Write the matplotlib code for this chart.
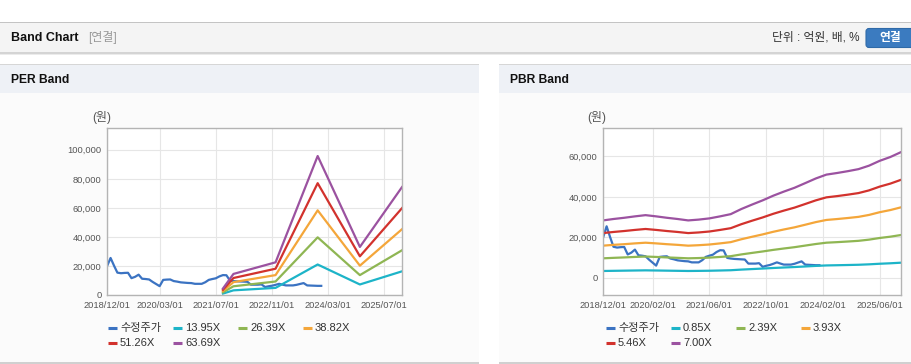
import matplotlib
matplotlib.use("Agg")
import matplotlib.pyplot as plt
import matplotlib.dates as mdates
from matplotlib.patches import Rectangle, FancyBboxPatch
import pandas as pd

plt.rcParams['font.family'] = ['Liberation Sans', 'Noto Sans CJK KR']

# ---- data ----
price_dates = pd.date_range('2018-12-01', '2024-01-01', freq='MS')
price = [19800,
         25500, 20000, 15400, 15000, 15200, 15300, 11600, 12500, 14000, 11200, 11000, 10700,
         9000, 7500, 6100, 10400, 10600, 10700, 9600, 9200, 8700, 8500, 8300, 8200,
         7700, 7700, 7700, 8800, 10400, 11000, 11500, 12800, 13700, 13600, 9900, 9600,
         9400, 9300, 9200, 9100, 7100, 7100, 7100, 7300, 5500, 6000, 6400, 7000,
         7700, 7100, 6600, 6600, 6600, 7000, 7600, 8200, 6600, 6500, 6400, 6300,
         6300]

per_dates = pd.to_datetime(['2021-09-01', '2021-12-01', '2022-12-01',
                            '2023-12-01', '2024-12-01', '2025-12-01'])
per_labels = ['13.95X', '26.39X', '38.82X', '51.26X', '63.69X']
per_1395 = [980, 3200, 4900, 21000, 7250, 16300]
per_2639 = [1850, 6000, 9300, 39700, 13700, 30800]
per_3882 = [2720, 8850, 13700, 58300, 20200, 45300]
per_5126 = [3590, 11700, 18100, 77000, 26650, 59800]
per_6369 = [4460, 14500, 22500, 95700, 33100, 74300]

pbr_dates = pd.date_range('2018-12-01', '2025-12-01', freq='3MS')
pbr_labels = ['0.85X', '2.39X', '3.93X', '5.46X', '7.00X']
pbr_085 = [3450, 3530, 3610, 3690, 3760, 3690, 3610, 3530, 3450, 3500, 3570, 3690, 3820, 4130,
           4390, 4650, 4930, 5170, 5400, 5680, 5960, 6190, 6290, 6400, 6520, 6730, 7020, 7250, 7540]
pbr_239 = [9700, 9930, 10140, 10380, 10580, 10380, 10140, 9930, 9700, 9830, 10040, 10380, 10750, 11610,
           12360, 13080, 13860, 14540, 15190, 15980, 16760, 17410, 17680, 17990, 18330, 18910, 19730, 20380, 21200]
pbr_393 = [15940, 16340, 16670, 17070, 17400, 17070, 16670, 16340, 15940, 16170, 16510, 17070, 17680, 19090,
           20320, 21500, 22790, 23920, 24980, 26270, 27570, 28630, 29080, 29590, 30150, 31100, 32450, 33520, 34860]
pbr_546 = [22150, 22700, 23170, 23710, 24180, 23710, 23170, 22700, 22150, 22460, 22930, 23710, 24570, 26520,
           28240, 29870, 31670, 33230, 34710, 36500, 38300, 39780, 40400, 41110, 41890, 43210, 45080, 46570, 48440]
pbr_700 = [28400, 29100, 29700, 30400, 31000, 30400, 29700, 29100, 28400, 28800, 29400, 30400, 31500, 34000,
           36200, 38300, 40600, 42600, 44500, 46800, 49100, 51000, 51800, 52700, 53700, 55400, 57800, 59700, 62100]

per_ticks = ['2018-12-01', '2020-03-01', '2021-07-01', '2022-11-01', '2024-03-01', '2025-07-01']
pbr_ticks = ['2018-12-01', '2020-02-01', '2021-06-01', '2022-10-01', '2024-02-01', '2025-06-01']

price_color = '#3b73c2'
band_colors = ['#1db4c8', '#8fb653', '#f4a63a', '#d2322d', '#9b52a0']

W, H = 912, 364
fig = plt.figure(figsize=(W / 100, H / 100), dpi=100)

# ---- page background / frame ----
bg = fig.add_axes([0, 0, 1, 1])
bg.set_xlim(0, W)
bg.set_ylim(H, 0)
bg.axis('off')


def rect(x0, y0, x1, y1, color):
    bg.add_patch(Rectangle((x0, y0), x1 - x0, y1 - y0, facecolor=color, edgecolor='none'))


rect(0, 21.5, W, 23, '#c4c4c4')
rect(0, 23, W, 52, '#f4f4f4')
rect(0, 52, W, 53.5, '#d4d4d4')
rect(0, 53.5, W, 55, '#ebebeb')
bg.text(11, 38, 'Band Chart', fontsize=9, fontweight='bold', va='center', color='#111111')
bg.text(88, 38, '[연결]', fontsize=8.6, va='center', color='#999999')
bg.text(860, 38, '단위 : 억원, 배, %', fontsize=8.5, va='center', ha='right', color='#333333')
bg.add_patch(FancyBboxPatch((866, 28.5), 52, 19, boxstyle='round,pad=0,rounding_size=3',
                            facecolor='#3b7bc0', edgecolor='#2f6aa8', lw=0.8))
bg.text(890, 38.5, '연결', fontsize=8.5, fontweight='bold', va='center', ha='center', color='white')

for x0, x1, title in [(0, 479, 'PER Band'), (499, W, 'PBR Band')]:
    rect(x0, 63.5, x1, 65, '#d6d6d6')
    rect(x0, 65, x1, 93, '#eef1f6')
    rect(x0, 93, x1, 362, '#fbfbfb')
    rect(x0, 362, x1, H, '#d0d0d0')
    bg.text(x0 + 11, 80, title, fontsize=8.7, fontweight='bold', va='center', color='#111111')


def make_axes(x0, x1, y0, y1):
    return fig.add_axes([x0 / W, 1 - y1 / H, (x1 - x0) / W, (y1 - y0) / H])


def style(ax, ticks, ylim, yticks):
    ax.set_facecolor('white')
    ax.set_xlim(pd.Timestamp('2018-12-01'), pd.Timestamp('2025-12-01'))
    ax.set_ylim(*ylim)
    ax.set_xticks(pd.to_datetime(ticks))
    ax.xaxis.set_major_formatter(mdates.DateFormatter('%Y/%m/%d'))
    ax.set_yticks(yticks)
    ax.set_yticklabels([f'{v:,}' for v in yticks])
    ax.grid(True, color='#e6e6e6', lw=0.8)
    ax.set_axisbelow(True)
    for s in ax.spines.values():
        s.set_color('#b4b4b4')
        s.set_linewidth(1)
    ax.tick_params(length=0, labelsize=6.7, labelcolor='#555555', pad=4)


def legend_row(x, y, labels, colors):
    step = 65
    for i, (lab, col) in enumerate(zip(labels, colors)):
        lx = x + (i % 4) * step
        ly = y + (i // 4) * 15
        bg.plot([lx, lx + 9], [ly, ly], color=col, lw=2.2, solid_capstyle='butt')
        bg.text(lx + 12, ly, lab, fontsize=8, va='center', color='#333333')


# ---- PER Band ----
ax1 = make_axes(107, 402, 128, 295)
ax1.plot(price_dates, price, color=price_color, lw=1.6)
for vals, col in zip([per_1395, per_2639, per_3882, per_5126, per_6369], band_colors):
    ax1.plot(per_dates, vals, color=col, lw=1.6)
style(ax1, per_ticks, (0, 115000), [0, 20000, 40000, 60000, 80000, 100000])
bg.text(92, 118, '(원)', fontsize=8.6, va='center', color='#555555')
legend_row(108, 328, ['수정주가'] + per_labels, [price_color] + band_colors)

# ---- PBR Band ----
ax2 = make_axes(603, 901, 128, 295)
ax2.plot(price_dates, price, color=price_color, lw=1.6)
for vals, col in zip([pbr_085, pbr_239, pbr_393, pbr_546, pbr_700], band_colors):
    ax2.plot(pbr_dates, vals, color=col, lw=1.6)
style(ax2, pbr_ticks, (-8400, 74000), [0, 20000, 40000, 60000])
bg.text(587, 118, '(원)', fontsize=8.6, va='center', color='#555555')
legend_row(606, 328, ['수정주가'] + pbr_labels, [price_color] + band_colors)

fig.savefig('out.png', dpi=100)
